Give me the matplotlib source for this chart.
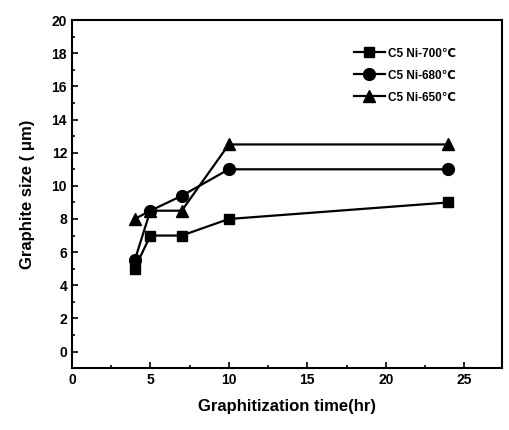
import matplotlib
matplotlib.use('Agg')
import matplotlib.pyplot as plt
from matplotlib.ticker import MultipleLocator

plt.rcParams['font.family'] = ['Liberation Sans', 'DejaVu Sans']
plt.rcParams['font.weight'] = 'bold'

#%% data
time_hr = [4, 5, 7, 10, 24]
size_700 = [5.0, 7.0, 7.0, 8.0, 9.0]
size_680 = [5.5, 8.5, 9.4, 11.0, 11.0]
size_650 = [8.0, 8.5, 8.5, 12.5, 12.5]
labels = ['C5 Ni-700\u2103', 'C5 Ni-680\u2103', 'C5 Ni-650\u2103']

#%% plot
fig = plt.figure(figsize=(5.1, 4.3), dpi=100)
ax = fig.add_axes([0.141, 0.144, 0.843, 0.809])

ax.plot(time_hr, size_700, '-s', color='black', lw=1.6, ms=7.5, label=labels[0])
ax.plot(time_hr, size_680, '-o', color='black', lw=1.6, ms=8.5, label=labels[1])
ax.plot(time_hr, size_650, '-^', color='black', lw=1.6, ms=8.5, label=labels[2])

ax.set_xlim(0, 27.4)
ax.set_ylim(-1, 20)
ax.xaxis.set_major_locator(MultipleLocator(5))
ax.xaxis.set_minor_locator(MultipleLocator(2.5))
ax.yaxis.set_major_locator(MultipleLocator(2))
ax.yaxis.set_minor_locator(MultipleLocator(1))
ax.tick_params(which='both', direction='in', width=1.2)
ax.tick_params(which='major', length=4, labelsize=10)
ax.tick_params(which='minor', length=2)
for s in ax.spines.values():
    s.set_linewidth(1.5)

ax.set_xlabel('Graphitization time(hr)', fontsize=12, fontweight='bold', labelpad=9)
ax.set_ylabel('Graphite size ( \u03bcm)', fontsize=12, fontweight='bold', labelpad=12)

ax.legend(loc='upper left', bbox_to_anchor=(0.645, 0.935), frameon=False,
          fontsize=8.5, handlelength=2.6, handletextpad=0.3, labelspacing=0.85,
          borderaxespad=0)

fig.savefig('out.png', dpi=100)
